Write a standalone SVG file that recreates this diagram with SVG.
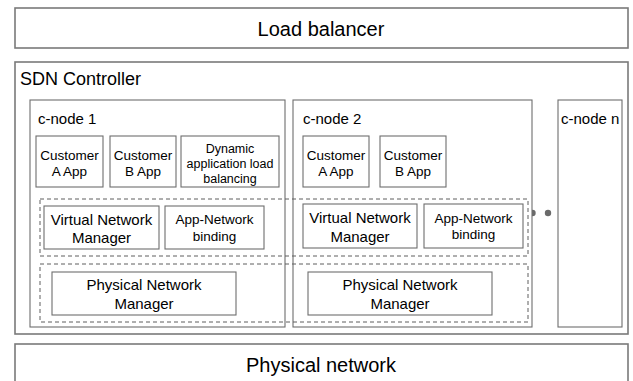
<svg xmlns="http://www.w3.org/2000/svg" width="633" height="381" viewBox="0 0 633 381">
<style>
text{font-family:"Liberation Sans",Arial,sans-serif;fill:#000;}
.outer{fill:#fff;stroke:#7a7a7a;stroke-width:1.6;}
.box{fill:#fff;stroke:#6e6e6e;stroke-width:1.1;}
.dash{fill:none;stroke:#5e5e5e;stroke-width:1;stroke-dasharray:4 3;}
.c{text-anchor:middle;}
.dot{fill:#6a6a6a;}
</style>
<rect width="633" height="381" fill="#fff"/>
<g id="load-balancer">
<rect class="outer" x="15" y="8" width="613" height="40"/>
<text class="c" x="321" y="36" font-size="20">Load balancer</text>
</g>
<g id="sdn-controller">
<rect class="outer" x="15" y="62" width="613" height="272"/>
<text x="20" y="85" font-size="18">SDN Controller</text>
</g>
<g id="physical-network">
<rect class="outer" x="15" y="344" width="613" height="45"/>
<text class="c" x="321" y="372" font-size="20">Physical network</text>
</g>
<g id="dots">
<circle class="dot" cx="532.5" cy="213" r="3.2"/>
<circle class="dot" cx="548" cy="213" r="3.2"/>
</g>
<g id="c-node-1">
<rect class="box" x="30" y="100" width="255" height="227"/>
<text x="38" y="124" font-size="15">c-node 1</text>
</g>
<g id="c-node-2">
<rect class="box" x="293" y="100" width="239" height="227"/>
<text x="303" y="124" font-size="15">c-node 2</text>
</g>
<g id="c-node-n">
<rect class="box" x="558" y="100" width="64" height="227"/>
<text x="561" y="124" font-size="15">c-node n</text>
</g>
<g id="virtual-layer">
<rect class="dash" x="40" y="199" width="488" height="57"/>
</g>
<g id="physical-layer">
<rect class="dash" x="40" y="264" width="488" height="58"/>
</g>
<g id="n1-customer-a">
<rect class="box" x="36" y="136" width="67" height="51"/>
<text class="c" x="69.5" y="159.5" font-size="13.5">Customer</text>
<text class="c" x="69.5" y="175.5" font-size="13.5">A App</text>
</g>
<g id="n1-customer-b">
<rect class="box" x="110" y="136" width="66" height="51"/>
<text class="c" x="143" y="159.5" font-size="13.5">Customer</text>
<text class="c" x="143" y="175.5" font-size="13.5">B App</text>
</g>
<g id="n1-dynamic">
<rect class="box" x="181" y="136" width="98" height="51"/>
<text class="c" x="230" y="152.5" font-size="12.5">Dynamic</text>
<text class="c" x="230" y="168" font-size="12.5">application load</text>
<text class="c" x="230" y="183" font-size="12.5">balancing</text>
</g>
<g id="n2-customer-a">
<rect class="box" x="303" y="136" width="66" height="51"/>
<text class="c" x="336" y="159.5" font-size="13.5">Customer</text>
<text class="c" x="336" y="175.5" font-size="13.5">A App</text>
</g>
<g id="n2-customer-b">
<rect class="box" x="380" y="136" width="66" height="51"/>
<text class="c" x="413" y="159.5" font-size="13.5">Customer</text>
<text class="c" x="413" y="175.5" font-size="13.5">B App</text>
</g>
<g id="n1-vnm">
<rect class="box" x="44" y="206" width="115" height="43"/>
<text class="c" x="101.5" y="225" font-size="15">Virtual Network</text>
<text class="c" x="101.5" y="243" font-size="15">Manager</text>
</g>
<g id="n1-binding">
<rect class="box" x="165" y="206" width="99" height="43"/>
<text class="c" x="214.5" y="224" font-size="13.5">App-Network</text>
<text class="c" x="214.5" y="240.5" font-size="13.5">binding</text>
</g>
<g id="n2-vnm">
<rect class="box" x="303" y="204" width="114" height="44"/>
<text class="c" x="360" y="223" font-size="15">Virtual Network</text>
<text class="c" x="360" y="241.5" font-size="15">Manager</text>
</g>
<g id="n2-binding">
<rect class="box" x="424" y="204" width="99" height="44"/>
<text class="c" x="473.5" y="222.5" font-size="13.5">App-Network</text>
<text class="c" x="473.5" y="239" font-size="13.5">binding</text>
</g>
<g id="n1-pnm">
<rect class="box" x="52" y="272" width="184" height="43"/>
<text class="c" x="144" y="290" font-size="15">Physical Network</text>
<text class="c" x="144" y="309" font-size="15">Manager</text>
</g>
<g id="n2-pnm">
<rect class="box" x="308" y="272" width="184" height="43"/>
<text class="c" x="400" y="290" font-size="15">Physical Network</text>
<text class="c" x="400" y="309" font-size="15">Manager</text>
</g>
</svg>
